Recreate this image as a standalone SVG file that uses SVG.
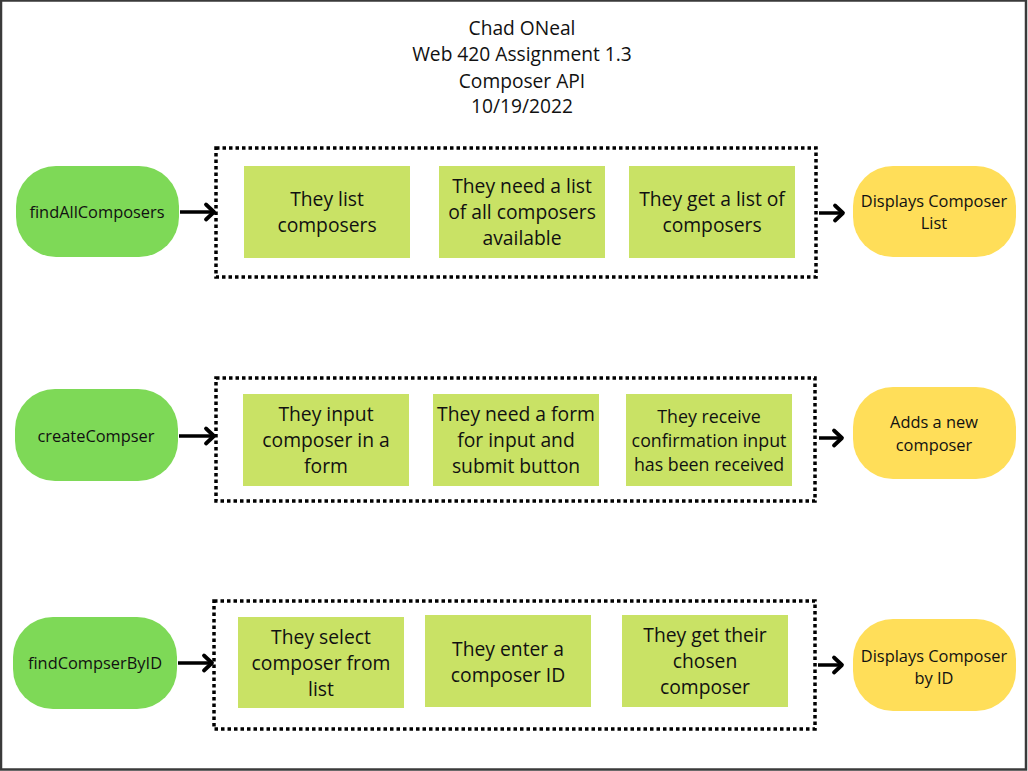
<svg xmlns="http://www.w3.org/2000/svg" width="1028" height="771" viewBox="0 0 1028 771">
<style>
text{font-family:"Open Sans","Noto Sans","Liberation Sans",sans-serif;fill:#111;text-anchor:middle}
.title{font-size:19.2px}
.step{font-size:19.3px}
.small{font-size:17.8px}
.pill{font-size:16.4px}
.start{fill:#7ed957}
.end{fill:#ffde59}
.box{fill:#c9e265}
.group{fill:none;stroke:#000;stroke-width:3.5;stroke-dasharray:3.5 3}
.conn{stroke:#000;stroke-width:3.5;fill:none}
</style>
<defs>
<marker id="arr" markerUnits="userSpaceOnUse" markerWidth="18" markerHeight="22" refX="13" refY="11" orient="auto">
<path d="M5,3.5 L13,11 L5,18.5" fill="none" stroke="#000" stroke-width="3.8" stroke-linecap="round" stroke-linejoin="round"/>
</marker>
</defs>
<rect x="0" y="0" width="1028" height="771" fill="#fff"/>
<rect x="1" y="0.5" width="1025" height="769" fill="none" stroke="#3a3a3a" stroke-width="2.5"/>
<g id="title">
<text class="title" x="522" y="35">Chad ONeal</text>
<text class="title" x="522" y="61">Web 420 Assignment 1.3</text>
<text class="title" x="522" y="88">Composer API</text>
<text class="title" x="522" y="113">10/19/2022</text>
</g>
<g id="connectors">
<line class="conn" x1="180" y1="212" x2="214" y2="212" marker-end="url(#arr)"/>
<line class="conn" x1="819" y1="213" x2="843" y2="213" marker-end="url(#arr)"/>
<line class="conn" x1="179" y1="436" x2="214" y2="436" marker-end="url(#arr)"/>
<line class="conn" x1="819" y1="438" x2="842" y2="438" marker-end="url(#arr)"/>
<line class="conn" x1="178" y1="663" x2="212" y2="663" marker-end="url(#arr)"/>
<line class="conn" x1="818" y1="665" x2="842" y2="665" marker-end="url(#arr)"/>
</g>
<g id="group1"><rect class="group" x="216" y="148" width="600" height="129"/></g>
<g id="group2"><rect class="group" x="216" y="378" width="599" height="123"/></g>
<g id="group3"><rect class="group" x="214" y="601" width="601" height="128"/></g>
<g id="findAllComposers">
<rect class="start" x="16" y="166" width="163" height="91" rx="40"/>
<text class="pill" x="97" y="218">findAllComposers</text>
</g>
<g id="step1a">
<rect class="box" x="244" y="166" width="166" height="92"/>
<text class="step" x="327" y="206">They list</text>
<text class="step" x="327" y="232">composers</text>
</g>
<g id="step1b">
<rect class="box" x="439" y="166" width="166" height="92"/>
<text class="step" x="522" y="193">They need a list</text>
<text class="step" x="522" y="219">of all composers</text>
<text class="step" x="522" y="245">available</text>
</g>
<g id="step1c">
<rect class="box" x="629" y="166" width="166" height="92"/>
<text class="step" x="712" y="206">They get a list of</text>
<text class="step" x="712" y="232">composers</text>
</g>
<g id="displaysList">
<rect class="end" x="853" y="166" width="163" height="91" rx="40"/>
<text class="pill" x="934" y="207">Displays Composer</text>
<text class="pill" x="934" y="229">List</text>
</g>
<g id="createCompser">
<rect class="start" x="15" y="389" width="163" height="92" rx="40"/>
<text class="pill" x="96" y="442">createCompser</text>
</g>
<g id="step2a">
<rect class="box" x="243" y="394" width="166" height="92"/>
<text class="step" x="326" y="421">They input</text>
<text class="step" x="326" y="447">composer in a</text>
<text class="step" x="326" y="473">form</text>
</g>
<g id="step2b">
<rect class="box" x="433" y="394" width="166" height="92"/>
<text class="step" x="516" y="421">They need a form</text>
<text class="step" x="516" y="447">for input and</text>
<text class="step" x="516" y="473">submit button</text>
</g>
<g id="step2c">
<rect class="box" x="626" y="394" width="166" height="92"/>
<text class="small" x="709" y="423">They receive</text>
<text class="small" x="709" y="447">confirmation input</text>
<text class="small" x="709" y="471">has been received</text>
</g>
<g id="addsComposer">
<rect class="end" x="853" y="387" width="163" height="92" rx="40"/>
<text class="pill" x="934" y="428">Adds a new</text>
<text class="pill" x="934" y="451">composer</text>
</g>
<g id="findCompserByID">
<rect class="start" x="13" y="617" width="164" height="92" rx="40"/>
<text class="pill" x="95" y="669">findCompserByID</text>
</g>
<g id="step3a">
<rect class="box" x="238" y="617" width="166" height="91"/>
<text class="step" x="321" y="644">They select</text>
<text class="step" x="321" y="670">composer from</text>
<text class="step" x="321" y="696">list</text>
</g>
<g id="step3b">
<rect class="box" x="425" y="615" width="166" height="92"/>
<text class="step" x="508" y="656">They enter a</text>
<text class="step" x="508" y="682">composer ID</text>
</g>
<g id="step3c">
<rect class="box" x="622" y="615" width="166" height="92"/>
<text class="step" x="705" y="642">They get their</text>
<text class="step" x="705" y="668">chosen</text>
<text class="step" x="705" y="694">composer</text>
</g>
<g id="displaysById">
<rect class="end" x="853" y="619" width="163" height="92" rx="40"/>
<text class="pill" x="934" y="662">Displays Composer</text>
<text class="pill" x="934" y="684">by ID</text>
</g>
</svg>
